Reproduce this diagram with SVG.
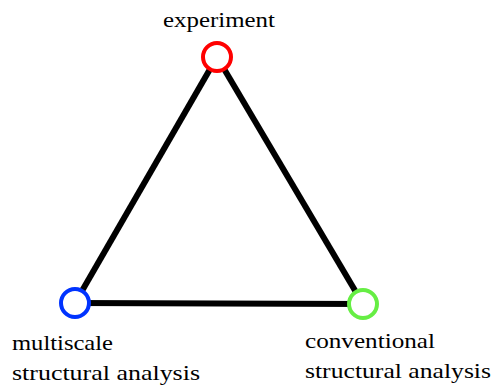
<svg xmlns="http://www.w3.org/2000/svg" width="493" height="387" viewBox="0 0 493 387">
<style>
.edge{stroke:#000;stroke-width:6;fill:none}
.node{fill:#fff;stroke-width:4}
</style>
<rect width="493" height="387" fill="#fff"/>
<g id="connectors">
<line class="edge" x1="217" y1="57" x2="75" y2="303"/>
<line class="edge" x1="217" y1="57" x2="363" y2="304"/>
<line class="edge" x1="75" y1="303" x2="363" y2="304"/>
</g>
<g font-family="Liberation Serif, DejaVu Serif, serif" font-size="22" fill="#000">
<g id="experiment">
<circle class="node" cx="217" cy="57" r="14" stroke="#ff0000"/>
<text x="163" y="27" textLength="112" lengthAdjust="spacingAndGlyphs">experiment</text>
</g>
<g id="multiscale">
<circle class="node" cx="75" cy="303" r="14" stroke="#0033ff"/>
<text x="12" y="350" textLength="101" lengthAdjust="spacingAndGlyphs">multiscale</text>
<text x="12" y="380" textLength="188" lengthAdjust="spacingAndGlyphs">structural analysis</text>
</g>
<g id="conventional">
<circle class="node" cx="363" cy="304" r="14" stroke="#66ee44"/>
<text x="305" y="348" textLength="130" lengthAdjust="spacingAndGlyphs">conventional</text>
<text x="305" y="378" textLength="186" lengthAdjust="spacingAndGlyphs">structural analysis</text>
</g>
</g>
</svg>
